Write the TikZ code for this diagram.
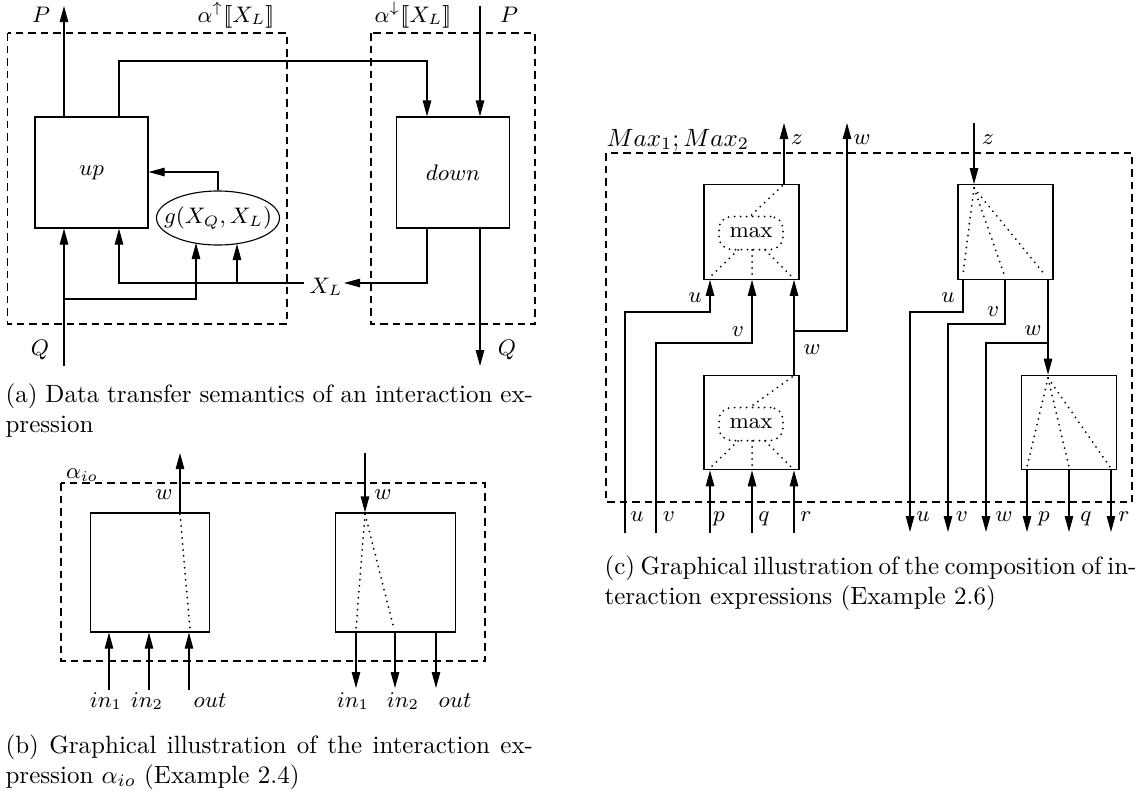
\documentclass[tikz,border=0pt]{standalone}
\usetikzlibrary{arrows.meta,shapes.geometric}
\newcommand\Lbrk{[\mkern-3mu[}
\newcommand\Rbrk{]\mkern-3mu]}
\begin{document}
\begin{tikzpicture}[x=0.4pt,y=-0.4pt,line width=0.45pt,
  arr/.style={-{Triangle[length=6.4pt,width=3.4pt]}},
  dbox/.style={draw,dash pattern=on 3pt off 2pt},
  dots/.style={line width=0.8pt,dash pattern=on 0pt off 2.4pt,line cap=round},
  lbl/.style={font=\fontsize{9}{11}\selectfont,inner sep=0pt},
  blka/.style={draw,inner sep=0pt,minimum width=45.2pt,minimum height=44.4pt,font=\fontsize{9}{11}\selectfont},
  blkb/.style={draw,inner sep=0pt,minimum width=47.8pt,minimum height=47.6pt},
  blkc/.style={draw,inner sep=0pt,minimum width=38pt,minimum height=37.8pt},
  maxn/.style={draw,dots,rounded corners=5pt,inner sep=0pt,minimum width=25.6pt,minimum height=13.2pt,font=\fontsize{9}{11}\selectfont},
  captxt/.style={anchor=base west,inner sep=0pt}]
\useasboundingbox (0,0) rectangle (1137,794);

% ---------------- (a) ----------------
\draw[dbox] (7.6,33) rectangle (287,324);
\draw[dbox] (371,33) rectangle (535,324);
\node[blka] (up) at (91.5,172.5) {$up$};
\node[blka] (down) at (453,172.5) {$down$};
\node[draw,ellipse,inner xsep=-5pt,inner ysep=0pt,minimum width=49.2pt,minimum height=21.6pt,font=\fontsize{9}{11}\selectfont] (g) at (218,218) {$g(X_Q,X_L)$};
\node[lbl] (Pl) at (41,15) {$P$};
\node[lbl] (au) at (236,15) {$\alpha^{\uparrow}\Lbrk X_L\Rbrk$};
\node[lbl] (ad) at (413,15) {$\alpha^{\downarrow}\Lbrk X_L\Rbrk$};
\node[lbl] (Pr) at (509,15) {$P$};
\node[lbl] (Ql) at (40,350) {$Q$};
\node[lbl] (Qr) at (507,350) {$Q$};
\node[lbl] (XL) at (326,287) {$X_L$};
\coordinate (pTop) at (64,6);
\coordinate (pIn) at (480,6);
\coordinate (qIn) at (64,366);
\coordinate (qOut) at (480,366);
\coordinate (t1) at (119,61);
\coordinate (t2) at (427,61);
\coordinate (xlr) at (344,283);
\coordinate (xll) at (304,283);
\coordinate (b2) at (237,283);
\coordinate (g2) at (237,244);
\coordinate (q1) at (64,299);
\coordinate (g1) at (196,243);
\coordinate (g3) at (218,172);
\draw[arr] (up.north -| pTop) -- (pTop);
\draw[arr] (pIn) -- (pIn |- down.north);
\draw[arr] (qIn) -- (qIn |- up.south);
\draw[arr] (qOut |- down.south) -- (qOut);
\draw[arr] (t1 |- up.north) -- (t1) -- (t2) -- (t2 |- down.north);
\draw[arr] (t2 |- down.south) |- (xlr);
\draw[arr] (xll) -| (t1 |- up.south);
\draw[arr] (b2) -- (g2);
\draw[arr] (q1) -| (g1);
\draw[arr] (g.north) |- (up.east |- g3);

% ---------------- (b) ----------------
\draw[dbox] (61,483) rectangle (485,661);
\node[blkb] (bl) at (150,572.5) {};
\node[blkb] (br) at (395.5,572.5) {};
\node[lbl] (aio) at (82,475) {$\alpha_{io}$};
\coordinate (bw1) at (180,453);
\coordinate (bw2) at (365,453);
\draw[arr] (bw1 |- bl.north) -- (bw1);
\draw[arr] (bw2) -- (bw2 |- br.north);
\node[lbl] (wb1) at (164,495) {$w$};
\node[lbl] (wb2) at (383,495) {$w$};
\draw[dots] (180,514) -- (190,629);
\draw[dots] (365,514) -- (356,629);
\draw[dots] (365,514) -- (394,629);
\coordinate (bi1) at (109,690);
\coordinate (bi2) at (149,690);
\coordinate (bi3) at (189,690);
\draw[arr] (bi1) -- (bi1 |- bl.south);
\draw[arr] (bi2) -- (bi2 |- bl.south);
\draw[arr] (bi3) -- (bi3 |- bl.south);
\coordinate (bo1) at (356,688);
\coordinate (bo2) at (395,688);
\coordinate (bo3) at (436,688);
\draw[arr] (bo1 |- br.south) -- (bo1);
\draw[arr] (bo2 |- br.south) -- (bo2);
\draw[arr] (bo3 |- br.south) -- (bo3);
\node[lbl,anchor=base] (li1) at (106,707) {$in_1$};
\node[lbl,anchor=base] (li2) at (147,707) {$in_2$};
\node[lbl,anchor=base] (lo1) at (210,707) {$out$};
\node[lbl,anchor=base] (ri1) at (353,707) {$in_1$};
\node[lbl,anchor=base] (ri2) at (403,707) {$in_2$};
\node[lbl,anchor=base] (ro1) at (455,707) {$out$};

% ---------------- (c) ----------------
\draw[dbox] (606,153) rectangle (1132,502);
\node[lbl,anchor=west,font=\fontsize{10}{12}\selectfont] (mm) at (606,140) {$Max_1;Max_2$};
\node[blkc] (ul) at (751.5,232) {};
\node[blkc] (ll) at (751.5,422.5) {};
\node[blkc] (ur) at (1005.5,232) {};
\node[blkc] (lr) at (1069,422.5) {};
\node[maxn] (m1) at (751,233) {max};
\node[maxn] (m2) at (751,424) {max};
% upper-left
\coordinate (z1) at (784,123);
\draw[arr] (z1 |- ul.north) -- (z1);
\node[lbl] (lz1) at (797,140) {$z$};
\coordinate (cr) at (794,331);
\coordinate (w1) at (847,123);
\draw[arr] (cr |- ll.north) -- (cr |- ul.south);
\draw[arr] (cr) -| (w1);
\node[lbl] (lw1) at (862,140) {$w$};
\node[lbl] (lw2) at (812,350) {$w$};
\draw[dots] (782,186) -- (m1.north);
\draw[dots] (738,250) -- (710,277);
\draw[dots] (752,250) -- (752,277);
\draw[dots] (765,250) -- (792,277);
\draw[dots] (792,377) -- (m2.north);
\draw[dots] (738,441) -- (710,468);
\draw[dots] (752,441) -- (752,468);
\draw[dots] (765,441) -- (792,468);
\coordinate (uu) at (625,533);
\coordinate (ujoin) at (710,312);
\coordinate (vv) at (656,533);
\coordinate (vjoin) at (752,343);
\draw[arr] (uu) |- (ujoin) -- (ujoin |- ul.south);
\draw[arr] (vv) |- (vjoin) -- (vjoin |- ul.south);
\node[lbl] (lu1) at (695,298) {$u$};
\node[lbl] (lv1) at (738,332) {$v$};
\coordinate (pp) at (710,533);
\coordinate (qq) at (752,533);
\coordinate (rr) at (794,533);
\draw[arr] (pp) -- (pp |- ll.south);
\draw[arr] (qq) -- (qq |- ll.south);
\draw[arr] (rr) -- (rr |- ll.south);
\node[lbl,anchor=base] (bu1) at (637,521) {$u$};
\node[lbl,anchor=base] (bv1) at (669,521) {$v$};
\node[lbl,anchor=base] (bp1) at (719,521) {$p$};
\node[lbl,anchor=base] (bq1) at (764,521) {$q$};
\node[lbl,anchor=base] (br1) at (806,521) {$r$};
% upper-right
\coordinate (z2) at (974,123);
\draw[arr] (z2) -- (z2 |- ur.north);
\node[lbl] (lz2) at (988,140) {$z$};
\draw[dots] (974,188) -- (963,274);
\draw[dots] (974,188) -- (1005,277);
\draw[dots] (974,188) -- (1045,275);
\coordinate (ru) at (910,532);
\coordinate (rujoin) at (963,312);
\coordinate (rv) at (948,532);
\coordinate (rvjoin) at (1005,324);
\coordinate (rw) at (986,532);
\coordinate (rwjoin) at (1048,343);
\draw[arr] (rujoin |- ur.south) -- (rujoin) -| (ru);
\draw[arr] (rvjoin |- ur.south) -- (rvjoin) -| (rv);
\draw[arr] (rwjoin |- ur.south) -- (rwjoin |- lr.north);
\draw[arr] (rwjoin) -| (rw);
\node[lbl] (lu2) at (948,298) {$u$};
\node[lbl] (lv2) at (993,312) {$v$};
\node[lbl] (lw3) at (1033,331) {$w$};
\draw[dots] (1048,378) -- (1027,467);
\draw[dots] (1048,378) -- (1069,467);
\draw[dots] (1048,378) -- (1110,467);
\coordinate (rp) at (1027,532);
\coordinate (rq) at (1069,532);
\coordinate (rr2) at (1111,532);
\draw[arr] (rp |- lr.south) -- (rp);
\draw[arr] (rq |- lr.south) -- (rq);
\draw[arr] (rr2 |- lr.south) -- (rr2);
\node[lbl,anchor=base] (bu2) at (923,521) {$u$};
\node[lbl,anchor=base] (bv2) at (962,521) {$v$};
\node[lbl,anchor=base] (bw3) at (1004,521) {$w$};
\node[lbl,anchor=base] (bp2) at (1044,521) {$p$};
\node[lbl,anchor=base] (bq2) at (1086,521) {$q$};
\node[lbl,anchor=base] (br2) at (1124,521) {$r$};

% ---------------- captions ----------------
\node[captxt] (ca1) at (5,402) {\makebox[211pt][s]{(a) Data transfer semantics of an interaction ex-}};
\node[captxt] (ca2) at (5,432) {pression};
\node[captxt] (cb1) at (5,753) {\makebox[211pt][s]{(b) Graphical illustration of the interaction ex-}};
\node[captxt] (cb2) at (5,783) {pression $\alpha_{io}$ (Example 2.4)};
\node[captxt] (cc1) at (604,574) {\makebox[209pt][s]{(c) Graphical illustration of the composition of in-}};
\node[captxt] (cc2) at (604,604) {teraction expressions (Example 2.6)};
\end{tikzpicture}
\end{document}
